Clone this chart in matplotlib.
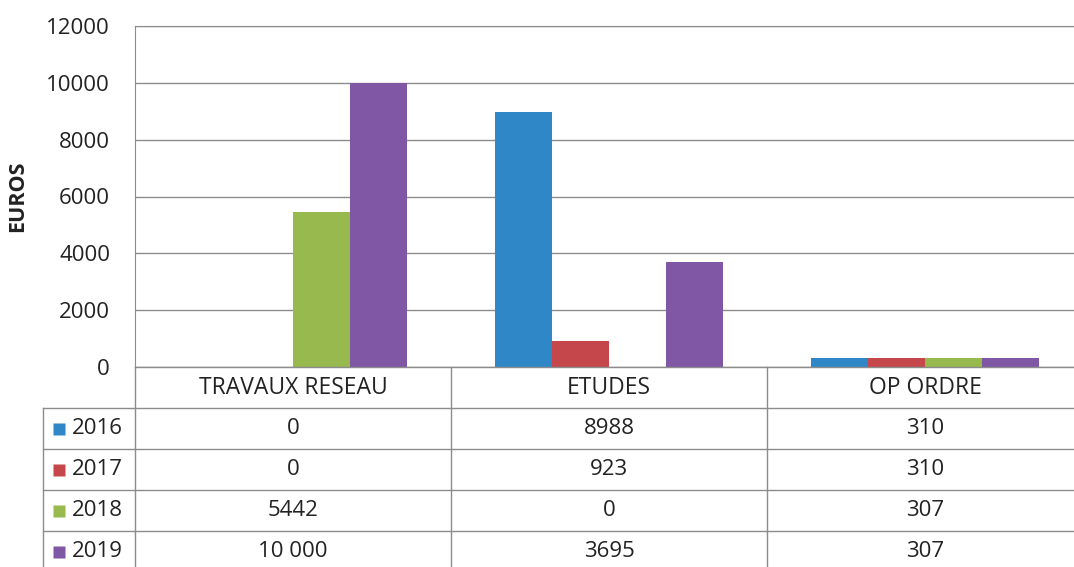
import numpy as np
import matplotlib.pyplot as plt
from matplotlib import transforms

plt.rcParams['font.family'] = ['Open Sans', 'DejaVu Sans']

categories = ['TRAVAUX RESEAU', 'ETUDES', 'OP ORDRE']
years = ['2016', '2017', '2018', '2019']
v2016 = [0, 8988, 310]
v2017 = [0, 923, 310]
v2018 = [5442, 0, 307]
v2019 = [10000, 3695, 307]
labels2016 = ['0', '8988', '310']
labels2017 = ['0', '923', '310']
labels2018 = ['5442', '0', '307']
labels2019 = ['10 000', '3695', '307']
colors = ['#2f87c7', '#c5474b', '#98b94e', '#8057a5']

series = [v2016, v2017, v2018, v2019]
cell_labels = [labels2016, labels2017, labels2018, labels2019]

W, H = 1074, 567
fig = plt.figure(figsize=(W / 100, H / 100), dpi=100)

# zone du graphique (en pixels de l'image)
left, right, top, bottom = 135, 1083, 26, 367
ax = fig.add_axes([left / W, 1 - bottom / H, (right - left) / W, (bottom - top) / H])

x = np.arange(len(categories))
width = 0.18
for i in range(4):
    ax.bar(x + (i - 1.5) * width, series[i], width, color=colors[i], zorder=3)

ax.set_xlim(-0.5, 2.5)
ax.set_ylim(0, 12000)
ax.set_yticks(range(0, 12001, 2000))
ax.tick_params(axis='y', length=0, labelsize=16, pad=18, colors='#222222')
ax.set_xticks([])
ax.grid(axis='y', color='#8c8c8c', lw=1, zorder=0)
for s in ['right', 'bottom']:
    ax.spines[s].set_visible(False)
ax.spines['left'].set_color('#8c8c8c')
ax.spines['top'].set_color('#8c8c8c')
ax.set_ylabel('EUROS', fontsize=15.5, fontweight='bold', color='#222222')
ax.yaxis.set_label_coords(-0.113, 0.5)

# tableau de données sous le graphique
tax = fig.add_axes([0, 0, 1, 1])
tax.set_xlim(0, W)
tax.set_ylim(H, 0)
tax.axis('off')
tr = transforms.blended_transform_factory(ax.transData, tax.transData)

line_c = '#8c8c8c'
rows_y = [367, 408, 449, 490, 531, 572]
for k, yy in enumerate(rows_y):
    x0 = left if k == 0 else 43
    tax.plot([x0, W], [yy, yy], color=line_c, lw=1)
for xe in [-0.5, 0.5, 1.5, 2.5]:
    tax.plot([xe, xe], [367, H], color=line_c, lw=1, transform=tr)
tax.plot([43, 43], [408, H], color=line_c, lw=1)

for j, c in enumerate(categories):
    tax.text(j, (rows_y[0] + rows_y[1]) / 2, c, ha='center', va='center',
             fontsize=16.5, color='#222222', transform=tr)

for i in range(4):
    yc = (rows_y[i + 1] + rows_y[i + 2]) / 2
    tax.plot(59, yc, marker='s', ms=9, color=colors[i], mec='none')
    tax.text(72, yc, years[i], ha='left', va='center', fontsize=16, color='#222222')
    for j in range(3):
        tax.text(j, yc, cell_labels[i][j], ha='center', va='center',
                 fontsize=16, color='#222222', transform=tr)

fig.savefig('out.png', dpi=100)
